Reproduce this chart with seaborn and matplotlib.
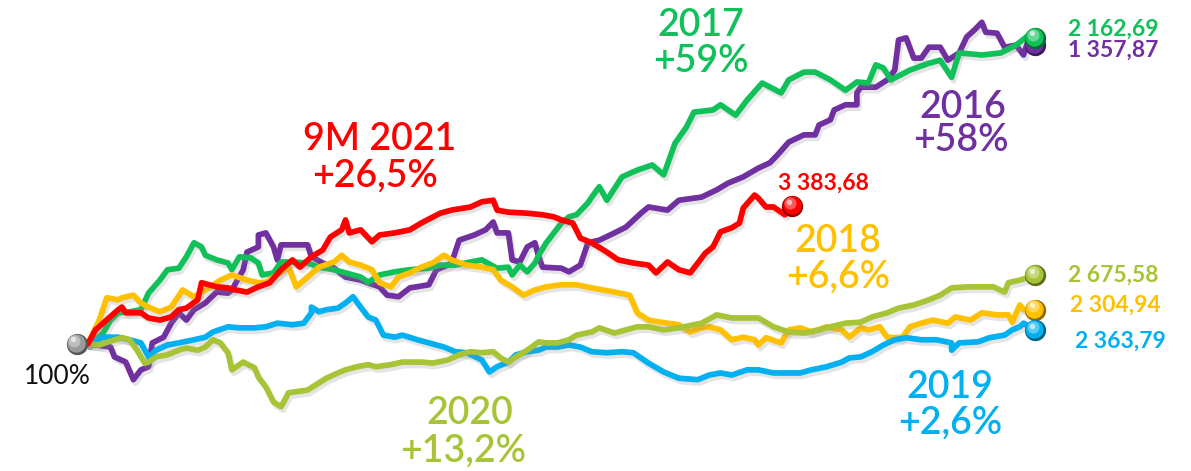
import matplotlib
matplotlib.use("Agg")
import pandas as pd
import matplotlib.pyplot as plt
import matplotlib.patheffects as pe
import matplotlib.transforms as mtransforms
from matplotlib.colors import to_rgb
import seaborn as sns

# ================= DATOS (día de bolsa, variación % desde el inicio) =================
years = ["2016", "2017", "2018", "2019", "2020", "9M 2021"]
changes = ["+58%", "+59%", "+6,6%", "+2,6%", "+13,2%", "+26,5%"]
closing = ["1 357,87", "2 162,69", "2 304,94", "2 363,79", "2 675,58", "3 383,68"]

path_2016 = [(0, 0.0), (6, -0.6), (7, -2.5), (10, -3.5), (12, -6.9), (14, -5.0), (16, -4.4),
             (17, 0.2), (20, 1.3), (22, 4.0), (24, 6.0), (26, 4.6), (28, 6.6), (31, 7.9),
             (34, 10.0), (37, 9.8), (38, 10.4), (41, 14.3), (42, 17.7), (45, 18.7), (45, 21.0),
             (47, 21.4), (49, 18.7), (50, 16.2), (51, 19.1), (54, 19.1), (58, 19.1), (59, 16.8),
             (62, 15.6), (65, 14.6), (68, 12.9), (72, 12.3), (77, 11.0), (79, 9.4), (82, 9.1),
             (85, 10.8), (90, 11.4), (92, 14.3), (95, 15.2), (96, 15.6), (98, 20.0), (102, 21.0),
             (105, 22.0), (107, 23.5), (108, 21.4), (111, 21.4), (112, 16.2), (114, 15.8),
             (116, 18.7), (118, 19.5), (119, 16.8), (120, 14.8), (125, 14.6), (127, 13.9),
             (130, 15.2), (132, 19.5), (135, 20.0), (139, 21.4), (142, 22.5), (146, 25.2),
             (148, 26.4), (153, 25.8), (156, 27.7), (162, 28.3), (166, 29.7), (169, 31.0),
             (173, 32.2), (177, 33.9), (180, 34.9), (182, 36.4), (185, 38.9), (189, 40.3),
             (192, 40.3), (193, 42.2), (196, 43.2), (197, 45.1), (200, 46.1), (203, 46.1),
             (203, 48.4), (204, 49.5), (208, 49.5), (211, 50.9), (213, 52.8), (214, 58.6),
             (216, 59.0), (218, 55.1), (220, 55.1), (222, 57.2), (225, 57.2), (227, 54.7),
             (230, 56.1), (232, 59.2), (234, 60.5), (236, 62.0), (237, 60.1), (240, 59.9),
             (242, 57.2), (245, 57.6), (247, 55.7), (248, 58.0), (250, 57.6)]

path_2017 = [(0, 0.0), (2, 0.8), (4, 2.1), (6, 4.6), (8, 6.0), (11, 6.2), (14, 6.6), (16, 9.8),
             (19, 12.3), (21, 14.3), (24, 14.6), (26, 16.8), (28, 19.5), (30, 18.7), (31, 17.1),
             (34, 16.2), (37, 15.6), (38, 14.3), (40, 16.8), (43, 16.6), (45, 15.6), (46, 13.3),
             (49, 13.7), (51, 15.8), (54, 15.8), (58, 15.6), (61, 14.8), (65, 14.3), (68, 13.7),
             (72, 12.9), (74, 11.9), (77, 13.3), (81, 13.9), (85, 14.3), (90, 14.6), (93, 15.2),
             (97, 15.2), (101, 15.8), (104, 16.2), (108, 14.6), (111, 14.8), (112, 13.3),
             (114, 15.2), (116, 13.9), (118, 15.6), (119, 17.1), (121, 19.5), (123, 21.4),
             (125, 23.3), (127, 24.5), (129, 24.9), (132, 27.2), (133, 28.3), (135, 30.3),
             (137, 27.7), (141, 32.2), (145, 33.5), (149, 34.5), (152, 32.6), (155, 38.7),
             (158, 41.8), (160, 44.7), (165, 45.1), (167, 46.1), (171, 44.1), (174, 47.0),
             (178, 50.3), (183, 48.4), (185, 50.9), (189, 52.4), (192, 52.4), (196, 50.9),
             (200, 48.9), (203, 50.5), (206, 50.3), (208, 53.8), (210, 53.2), (212, 50.9),
             (217, 52.8), (222, 54.1), (225, 54.7), (228, 51.4), (230, 56.1), (236, 55.7),
             (241, 56.1), (245, 57.6), (249, 59.9), (250, 59.0)]

path_2018 = [(0, 0.0), (3, 4.6), (5, 8.9), (8, 8.5), (9, 8.9), (12, 9.4), (14, 7.9), (16, 7.1),
             (19, 6.2), (22, 7.1), (25, 10.4), (28, 9.1), (31, 10.4), (35, 12.3), (38, 13.3),
             (42, 12.3), (45, 11.8), (47, 11.8), (49, 12.9), (53, 14.8), (55, 11.0), (58, 12.9),
             (61, 14.8), (65, 15.8), (67, 17.1), (69, 15.8), (72, 15.2), (75, 14.3), (77, 11.8),
             (80, 11.0), (82, 12.9), (85, 13.7), (88, 14.8), (91, 15.6), (94, 17.1), (96, 16.2),
             (100, 15.2), (104, 14.8), (107, 14.3), (109, 12.3), (112, 11.0), (115, 9.4),
             (118, 10.4), (121, 11.0), (125, 11.4), (129, 11.4), (133, 10.8), (139, 10.0),
             (143, 9.4), (145, 6.0), (148, 4.6), (151, 4.2), (156, 3.7), (159, 2.3), (162, 3.1),
             (164, 3.3), (167, 2.7), (170, 0.8), (173, 1.3), (176, 0.8), (177, -0.2), (179, 1.2),
             (183, 0.2), (185, 2.7), (188, 3.1), (191, 2.3), (195, 3.3), (199, 2.7), (201, 1.3),
             (204, 3.1), (206, 2.7), (209, 3.3), (211, 1.3), (213, 1.2), (215, 1.3), (217, 3.3),
             (220, 4.0), (223, 4.6), (227, 4.0), (229, 5.2), (233, 4.6), (236, 6.0), (240, 5.6),
             (243, 5.6), (244, 4.2), (246, 7.5), (247, 6.6), (250, 6.6)]

path_2019 = [(0, 0.0), (4, 1.3), (8, 1.3), (11, 0.8), (14, 0.2), (16, -2.5), (18, -1.2),
             (21, -0.2), (24, 0.2), (28, 0.8), (31, 1.3), (33, 2.3), (37, 3.3), (40, 3.1),
             (44, 3.1), (47, 3.3), (50, 4.0), (54, 3.7), (57, 4.0), (59, 6.0), (59, 7.1),
             (61, 6.2), (63, 6.6), (66, 6.9), (68, 7.9), (70, 9.1), (72, 7.1), (74, 5.2),
             (76, 4.6), (78, 1.7), (81, 1.3), (83, 1.7), (87, 0.8), (90, 0.2), (94, -0.6),
             (97, -1.5), (100, -1.7), (104, -3.1), (106, -5.4), (108, -4.4), (111, -3.5),
             (113, -2.1), (116, -1.5), (119, -1.2), (121, -0.6), (124, -0.6), (127, -0.2),
             (130, -0.6), (133, -1.5), (137, -1.7), (141, -1.5), (144, -1.7), (148, -3.7),
             (152, -5.4), (156, -6.6), (161, -6.9), (164, -6.0), (167, -5.6), (170, -6.0),
             (174, -5.0), (177, -5.0), (181, -5.6), (185, -5.6), (188, -5.6), (191, -5.0),
             (195, -4.4), (199, -3.5), (201, -2.7), (204, -2.5), (207, -1.5), (210, -0.2),
             (213, 0.8), (216, 1.2), (220, 0.8), (224, 0.8), (228, 0.2), (228, -1.2), (230, 0.2),
             (235, 0.4), (238, 1.2), (242, 1.7), (244, 2.7), (246, 3.3), (247, 4.0), (250, 2.6)]

path_2020 = [(0, 0.0), (3, -0.2), (7, 0.8), (9, 1.2), (11, 0.8), (13, -1.2), (15, -3.7),
             (16, -3.5), (18, -2.5), (21, -2.1), (24, -1.2), (26, -0.8), (29, -1.2), (31, -0.6),
             (33, 0.8), (35, 0.2), (37, -1.7), (38, -5.0), (41, -3.5), (44, -4.6), (45, -6.4),
             (47, -8.3), (49, -11.2), (51, -12.1), (53, -9.4), (55, -9.2), (58, -8.9), (61, -7.5),
             (63, -6.6), (66, -5.6), (68, -5.0), (71, -4.4), (74, -4.0), (76, -4.4), (80, -4.0),
             (83, -3.5), (88, -3.5), (91, -3.7), (95, -3.1), (98, -2.1), (101, -1.5), (104, -1.7),
             (107, -1.5), (109, -2.7), (111, -3.5), (113, -2.5), (116, -1.2), (119, 0.4),
             (121, 0.2), (124, 0.2), (127, 0.8), (129, 1.7), (133, 2.3), (135, 3.1), (139, 2.1),
             (142, 2.7), (145, 3.3), (148, 3.3), (152, 2.7), (156, 3.1), (162, 4.0), (166, 5.6),
             (170, 5.0), (174, 5.0), (177, 5.0), (181, 3.3), (185, 2.3), (189, 2.1), (193, 2.7),
             (196, 3.3), (200, 4.0), (204, 4.2), (207, 5.2), (211, 6.0), (214, 6.9), (218, 7.5),
             (222, 8.5), (225, 9.4), (228, 10.8), (232, 11.0), (236, 11.0), (239, 11.0),
             (242, 10.0), (243, 11.8), (246, 12.3), (250, 13.2)]

path_2021 = [(0, 0.0), (2, 2.7), (4, 4.0), (8, 6.6), (9, 7.1), (10, 6.0), (14, 6.0), (16, 5.0),
             (19, 4.6), (22, 5.2), (24, 6.6), (26, 6.9), (29, 8.5), (30, 11.8), (34, 11.0),
             (37, 10.8), (39, 10.4), (42, 10.0), (45, 11.0), (48, 11.8), (51, 14.3), (54, 16.2),
             (56, 14.8), (59, 16.8), (62, 18.1), (64, 20.6), (67, 22.0), (68, 23.9), (69, 21.4),
             (72, 22.0), (75, 19.7), (77, 21.0), (81, 21.4), (85, 22.0), (88, 23.3), (93, 25.2),
             (96, 25.8), (101, 26.4), (104, 27.4), (107, 27.7), (108, 25.8), (111, 25.4),
             (116, 25.2), (120, 24.9), (123, 24.5), (125, 23.9), (128, 23.3), (130, 20.4),
             (133, 19.5), (137, 17.7), (140, 16.2), (144, 15.6), (148, 15.2), (150, 13.7),
             (153, 15.8), (156, 14.3), (159, 13.7), (161, 15.6), (163, 17.5), (165, 18.7),
             (167, 21.6), (170, 22.4), (172, 23.3), (173, 26.2), (176, 28.7), (177, 28.1),
             (179, 26.4), (181, 26.4), (184, 24.9), (185, 26.8), (186, 26.5)]

paths = [path_2016, path_2017, path_2018, path_2019, path_2020, path_2021]

# Colores (estilo presentación)
COLORES = {"2016": "#7030A0", "2017": "#10C15A", "2018": "#FFC000",
           "2019": "#00B0F0", "2020": "#A6C435", "9M 2021": "#FF0000"}

# posiciones de las etiquetas grandes (píxeles de la figura: centro de cada línea de texto)
ETIQUETAS = {"2016": ((963, 107), (961, 141)), "2017": ((701, 25), (701, 61)),
             "2018": ((838, 242), (838, 277)), "2019": ((950, 388), (950, 423)),
             "2020": ((470, 414), (463, 451)), "9M 2021": ((380, 140), (375, 176))}
# desplazamiento (pt) de la cifra de cierre respecto al final de la serie
OFFSETS = {"2016": (24, -4, "left"), "2017": (24, 6, "left"), "2018": (25, 3, "left"),
           "2019": (29, -8, "left"), "2020": (24, 0, "left"), "9M 2021": (22, 17, "center")}

W, H = 1191, 471


def mezclar(c, otro, t):
    a, b = to_rgb(c), to_rgb(otro)
    return tuple(a[i] * (1 - t) + b[i] * t for i in range(3))


def esfera(ax, fig, x, y, color):
    capas = [(235, mezclar(color, "black", 0.45), 0, 0),
             (175, color, -0.6, 0.8),
             (75, mezclar(color, "white", 0.35), -1.6, 2.4),
             (15, mezclar(color, "white", 0.75), -2.4, 3.5)]
    for s, c, dx, dy in capas:
        tr = mtransforms.offset_copy(ax.transData, fig=fig, x=dx, y=dy, units="points")
        ax.scatter([x], [y], s=s, color=c, transform=tr, zorder=10, linewidths=0)


filas = []
for year, path in zip(years, paths):
    for day, pct in path:
        filas.append({"year": year, "day": day, "value": 100 + pct})
df = pd.DataFrame(filas)

sns.set_style("white")
plt.rcParams["font.family"] = ["Lato", "DejaVu Sans"]

fig = plt.figure(figsize=(W / 100, H / 100), dpi=100)
ax = fig.add_axes([0, 0, 1, 1])

sns.lineplot(data=df, x="day", y="value", hue="year", hue_order=years, palette=COLORES,
             estimator=None, sort=False, linewidth=4.1, legend=False, ax=ax)
for line in ax.lines:
    line.set_solid_joinstyle("round")
    line.set_solid_capstyle("round")
    line.set_path_effects([pe.SimpleLineShadow(offset=(1.5, -2.5), shadow_color="#888888", alpha=0.22),
                           pe.Normal()])

ax.set_xlim(-23.2, 291.2)
ax.set_ylim(75.5, 166.3)
ax.axis("off")

# punto de partida
esfera(ax, fig, -3, 100, "#9a9a9a")
ax.text(57 / W, 1 - 377 / H, "100%", transform=fig.transFigure, ha="center", va="center",
        fontsize=19, fontweight="normal", color="#111111")

for year, path, chg, val in zip(years, paths, changes, closing):
    color = COLORES[year]
    d_end, p_end = path[-1]
    esfera(ax, fig, d_end, 100 + p_end, color)

    (x1, y1), (x2, y2) = ETIQUETAS[year]
    ax.text(x1 / W, 1 - y1 / H, year, transform=fig.transFigure, ha="center", va="center",
            fontsize=27, fontweight="semibold", color=color)
    ax.text(x2 / W, 1 - y2 / H, chg, transform=fig.transFigure, ha="center", va="center",
            fontsize=27, fontweight="semibold", color=color)

    dx, dy, ha = OFFSETS[year]
    ax.annotate(val, xy=(d_end, 100 + p_end), xytext=(dx, dy), textcoords="offset points",
                ha=ha, va="center", fontsize=16.5, fontweight="bold", color=color)

fig.savefig("out.png", dpi=100)
